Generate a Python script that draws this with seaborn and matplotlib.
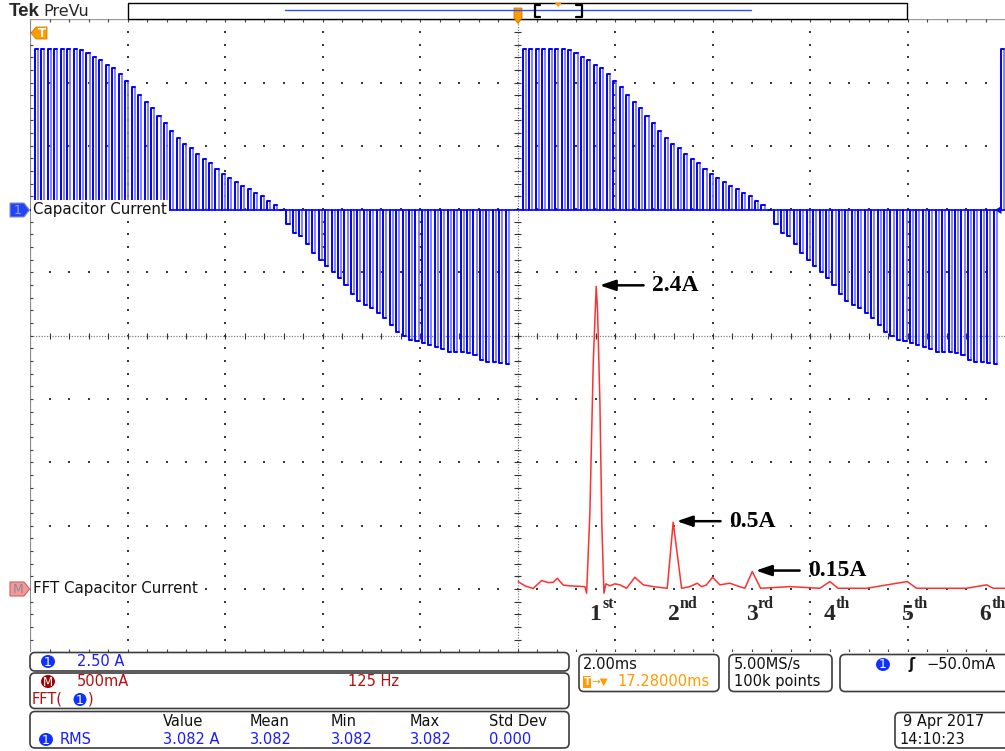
import numpy as np
import pandas as pd
import matplotlib
matplotlib.use("Agg")
import matplotlib.pyplot as plt
import seaborn as sns
from matplotlib.patches import FancyBboxPatch, Polygon, Ellipse, Rectangle
from matplotlib.transforms import offset_copy

# Channel 1: capacitor current, switching-pulse peak values (A) over one line cycle
ch1_pulse_amps = [6.35, 6.35, 6.35, 6.36, 6.36, 6.35, 6.33, 6.30, 6.20, 6.05,
                  5.93, 5.70, 5.58, 5.35, 5.10, 4.85, 4.52, 4.25, 4.00, 3.70,
                  3.42, 3.10, 2.85, 2.60, 2.42, 2.20, 2.00, 1.84, 1.60, 1.42,
                  1.26, 1.08, 0.93, 0.80, 0.67, 0.54, 0.35, 0.18, -0.02, -0.55,
                  -0.90, -1.05, -1.35, -1.70, -1.98, -2.24, -2.47, -2.70, -2.97, -3.32,
                  -3.60, -3.76, -3.90, -4.08, -4.27, -4.55, -4.83, -5.00, -5.14, -5.20,
                  -5.26, -5.33, -5.41, -5.50, -5.60, -5.62, -5.63, -5.65, -5.75, -5.93,
                  -6.01, -6.03, -6.05, -6.08]
ch1_cycle_start_ms = [0.10, 10.11, 19.92]
ch1_switch_period_ms = 0.1323
ch1_scale_a_per_div = 2.5
time_ms_per_div = 2.0

# Math channel: FFT of capacitor current
fft_freq_hz = [0.9, 9.5, 20.0, 30.9, 39.4, 45.8, 51.0, 58.6, 67.2, 86.4,
               88.6, 92.8, 97.1, 99.7, 100.9, 102.6, 105.6, 108.2, 110.8, 113.3,
               118.5, 124.9, 131.3, 139.9, 150.5, 161.2, 174.0, 192.0, 199.6, 210.4,
               221.0, 230.4, 236.0, 242.0, 250.0, 259.5, 272.3, 281.7, 291.5, 301.0,
               311.7, 349.0, 387.7, 400.5, 411.0, 447.5, 499.6, 511.7, 575.7, 601.4,
               610.0, 625.0]
fft_amp_a = [0.058, 0.024, 0.003, 0.066, 0.050, 0.052, 0.084, 0.030, 0.024, 0.018,
             -0.034, 0.60, 1.78, 2.20, 2.39, 2.20, 1.49, 0.49, -0.034, 0.040,
             0.024, 0.040, 0.032, 0.005, 0.092, 0.032, 0.018, 0.005, 0.527, 0.005,
             0.018, 0.045, 0.018, 0.030, 0.092, 0.032, 0.045, 0.024, 0.005, 0.137,
             0.005, 0.018, 0.005, 0.058, 0.005, 0.005, 0.058, 0.005, 0.005, 0.032,
             0.005, 0.005]
fft_scale_a_per_div = 0.5
fft_hz_per_div = 125.0

peak_labels = ["2.4A", "0.5A", "0.15A"]
peak_freq_hz = [100.9, 199.6, 301.0]
peak_amp_a = [2.39, 0.527, 0.137]

harmonic_numbers = ["1", "2", "3", "4", "5", "6"]
harmonic_suffix = ["st", "nd", "rd", "th", "th", "th"]
harmonic_freq_hz = [100, 200, 300, 400, 500, 600]

meas_headers = ["Value", "Mean", "Min", "Max", "Std Dev"]
meas_values = ["3.082 A", "3.082", "3.082", "3.082", "0.000"]

# ---------------- style ----------------
sns.set_style("white")
plt.rcParams["font.family"] = ["DejaVu Sans"]

W, H = 1005, 751
fig = plt.figure(figsize=(W / 100, H / 100), dpi=100)
left_px, right_px, top_px, bot_px = 30, 1005, 19.2, 652.2
ax = fig.add_axes([left_px / W, 1 - bot_px / H, (right_px - left_px) / W, (bot_px - top_px) / H])
ax.set_xlim(0, 10)
ax.set_ylim(-5, 5)
ax.axis("off")

CH1_OFF = 1.99   # ch1 ground, divisions above centre
FFT_OFF = -4.0   # math ground
PULSE_W = 0.064  # ms (top dwell of each switching pulse)
BLUE, LBLUE = "#0000ff", "#7878ff"
RED = "#ff3030"

# graticule dots
minor = np.round(np.arange(0.2, 10.0, 0.2), 3)
minor_y = np.round(np.arange(-4.8, 5.0, 0.2), 3)
gx, gy = [], []
for xv in [1, 2, 3, 4, 6, 7, 8, 9]:
    gx += [xv] * len(minor_y); gy += list(minor_y)
for yv in [-4, -3, -2, -1, 1, 2, 3, 4]:
    gx += list(minor); gy += [yv] * len(minor)
ax.scatter(gx, gy, s=1.3, marker="s", color="#3a3a3a", linewidths=0, zorder=1)
# centre crosshair
ax.hlines(0, 0, 10, colors="#808080", linestyles=(0, (1, 1.2)), lw=0.9, zorder=1)
ax.vlines(5, -5, 5, colors="#808080", linestyles=(0, (1, 1.2)), lw=0.9, zorder=1)
ax.vlines(minor, -0.05, 0.05, colors="#333333", lw=0.8, zorder=1)
ax.hlines(minor_y, 4.965, 5.035, colors="#333333", lw=0.8, zorder=1)
# edges
ax.vlines(0, -5, 5, colors="#8a8a8a", lw=1.6, zorder=2)
ax.hlines(5, 0, 10, colors="#9a9a9a", lw=1.0, zorder=2)
ax.vlines(minor, 5 - 0.05, 5, colors="#444444", lw=0.8)
ax.vlines(minor, -5, -5 + 0.05, colors="#444444", lw=0.8)
ax.hlines(minor_y, 0, 0.035, colors="#444444", lw=0.8)

# ---------------- channel 1 trace ----------------
rows = []
uid = 0
for c0 in ch1_cycle_start_ms:
    for k, a in enumerate(ch1_pulse_amps):
        t = c0 + k * ch1_switch_period_ms
        yv = a / ch1_scale_a_per_div + CH1_OFF
        # leading edge + top (bright), trailing edge (dim)
        for tt, yy in [(t, CH1_OFF), (t, yv), (t + PULSE_W, yv)]:
            rows.append((tt / time_ms_per_div, yy, uid, "bright"))
        uid += 1
        for tt, yy in [(t + PULSE_W, yv), (t + PULSE_W, CH1_OFF)]:
            rows.append((tt / time_ms_per_div, yy, uid, "dim"))
        uid += 1
df = pd.DataFrame(rows, columns=["x", "y", "seg", "shade"])
sns.lineplot(data=df[df.shade == "dim"], x="x", y="y", units="seg", estimator=None,
             color=LBLUE, sort=False, lw=1.3, legend=False, ax=ax, zorder=3)
sns.lineplot(x=[0, 10], y=[CH1_OFF, CH1_OFF], color=BLUE, lw=1.2, ax=ax, zorder=3)
sns.lineplot(data=df[df.shade == "bright"], x="x", y="y", units="seg", estimator=None,
             color=BLUE, sort=False, lw=1.4, legend=False, ax=ax, zorder=3)

# ---------------- FFT trace ----------------
fx = 5 + np.array(fft_freq_hz) / fft_hz_per_div
fy = np.array(fft_amp_a) / fft_scale_a_per_div + FFT_OFF
sns.lineplot(x=fx, y=fy, sort=False, color=RED, lw=1.1, ax=ax, zorder=4)

# annotations
tip = offset_copy(ax.transData, fig=fig, x=3.5, y=1, units="dots")
for lab, f, a in zip(peak_labels, peak_freq_hz, peak_amp_a):
    ax.annotate(lab, xy=(5 + f / fft_hz_per_div, a / fft_scale_a_per_div + FFT_OFF),
                xycoords=tip, xytext=(52, 0), textcoords="offset pixels",
                ha="left", va="center", fontsize=17, fontweight="bold",
                family="Liberation Serif", color="black",
                arrowprops=dict(arrowstyle="-|>,head_length=0.47,head_width=0.16",
                                mutation_scale=20, lw=1.8, color="black",
                                shrinkA=3.5, shrinkB=0))
for n, sfx, f in zip(harmonic_numbers, harmonic_suffix, harmonic_freq_hz):
    xv = 5 + f / fft_hz_per_div
    ax.annotate(n, xy=(xv, FFT_OFF), xytext=(0, -31), textcoords="offset pixels",
                ha="center", va="baseline", fontsize=17, fontweight="bold",
                family="Liberation Serif", annotation_clip=False)
    ax.annotate(sfx, xy=(xv, FFT_OFF), xytext=(6.5, -19), textcoords="offset pixels",
                ha="left", va="baseline", fontsize=11.5, fontweight="bold",
                family="Liberation Serif", annotation_clip=False)

# ---------------- overlay (pixel coordinates) ----------------
ov = fig.add_axes([0, 0, 1, 1], zorder=10)
ov.set_xlim(0, W)
ov.set_ylim(H, 0)
ov.axis("off")

UI = "DejaVu Sans"
FS = 10.5
TXTBLUE = "#1a1aff"
DRED = "#b01010"
ORANGE = "#ff9a00"

ov.text(9, 11.5, "Tek", family="Liberation Sans", fontweight="bold", fontsize=13.5, va="center")
ov.text(43, 11, "PreVu", family=UI, fontsize=11.5, va="center")
ov.add_patch(Rectangle((128, 3), 779, 15.5, facecolor="white", edgecolor="black", lw=1.0))
ov.plot([285, 751], [10, 10], color="#3050ff", lw=1.0)
ov.plot([540, 534.5, 534.5, 540], [4.5, 4.5, 17, 17], color="black", lw=1.6, solid_joinstyle="round")
ov.plot([576, 581.5, 581.5, 576], [4.5, 4.5, 17, 17], color="black", lw=1.6, solid_joinstyle="round")
ov.add_patch(Polygon([(554.5, 2.5), (562, 2.5), (558.2, 7)], closed=True, facecolor=ORANGE, edgecolor="none"))
ov.add_patch(Polygon([(514, 8), (522, 8), (522, 18), (518, 23.5), (514, 18)], closed=True,
                     facecolor=ORANGE, edgecolor="#cc7a00", lw=0.6))

# left markers
ov.add_patch(Polygon([(31, 33), (36, 27), (47, 27), (47, 39), (36, 39)], closed=True,
                     facecolor=ORANGE, edgecolor="#d08000", lw=0.6))
ov.text(41.5, 33.5, "T", color="white", fontsize=8.5, fontweight="bold", ha="center", va="center")
ov.add_patch(Polygon([(10, 203), (24, 203), (29.5, 210), (24, 217), (10, 217)], closed=True,
                     facecolor="#2244ff", edgecolor="#9090b0", lw=0.8))
ov.text(18, 210.5, "1", color="#9aa0d0", fontsize=9, ha="center", va="center")
ov.add_patch(Polygon([(10, 582), (24, 582), (29.5, 589), (24, 596), (10, 596)], closed=True,
                     facecolor="#f29a9a", edgecolor="#d06060", lw=0.8))
ov.text(18.5, 589.5, "M", color="#8a8a8a", fontsize=9, ha="center", va="center")
ov.text(33, 209.5, "Capacitor Current", family=UI, fontsize=10.8, color="#111111", va="center",
        bbox=dict(facecolor="white", edgecolor="none", pad=1.2))
ov.text(33, 588.5, "FFT Capacitor Current", family=UI, fontsize=10.8, color="#111111", va="center",
        bbox=dict(facecolor="white", edgecolor="none", pad=1.2))
ov.add_patch(Polygon([(995, 210), (1001.5, 206), (1001.5, 214)], closed=True, facecolor=BLUE, edgecolor="none"))

# bottom readout boxes
def box(x, y, w, h):
    ov.add_patch(FancyBboxPatch((x, y), w, h, boxstyle="round,pad=0,rounding_size=5",
                                facecolor="white", edgecolor="#3c3c3c", lw=1.2))

def badge(x, y, txt, col, w=14, h=13, fs=9):
    ov.add_patch(Ellipse((x, y), w, h, facecolor=col, edgecolor="none"))
    ov.text(x, y + 0.5, txt, color="white", fontsize=fs, ha="center", va="center", family=UI)

box(30, 652.5, 539, 18.5)
box(30, 673, 539, 35.5)
box(30, 711.5, 539, 36.5)
box(579, 654.5, 140, 37)
box(729, 654.5, 103, 37)
box(840, 654.5, 185, 37)
box(895, 712.5, 130, 35.5)

badge(48, 661.5, "1", "#1030ff")
ov.text(77, 661.5, "2.50 A", color=TXTBLUE, fontsize=FS, family=UI, va="center")
badge(48, 681.5, "M", "#a00000", fs=8.5)
ov.text(77, 681.5, "500mA", color=DRED, fontsize=FS, family=UI, va="center")
ov.text(348, 681.5, "125 Hz", color=DRED, fontsize=FS, family=UI, va="center")
ov.text(32, 699.5, "FFT(", color=DRED, fontsize=FS, family=UI, va="center")
badge(80, 699.5, "1", "#1030ff", w=13, h=13)
ov.text(88, 699.5, ")", color=DRED, fontsize=FS, family=UI, va="center")

hx = [163, 250, 331, 410, 489]
for x, h in zip(hx, meas_headers):
    ov.text(x, 721.5, h, color="#111111", fontsize=FS, family=UI, va="center")
badge(46, 739.5, "1", "#1030ff")
ov.text(60, 739.5, "RMS", color=TXTBLUE, fontsize=FS, family=UI, va="center")
for x, v in zip(hx, meas_values):
    ov.text(x, 739.5, v, color=TXTBLUE, fontsize=FS, family=UI, va="center")

ov.text(583, 664.5, "2.00ms", color="#111111", fontsize=FS, family=UI, va="center")
ov.add_patch(Rectangle((583, 675.5), 8, 12, facecolor=ORANGE, edgecolor="none"))
ov.text(587, 682, "T", color="white", fontsize=7.5, fontweight="bold", ha="center", va="center")
ov.text(591.5, 681.5, "→▼", color=ORANGE, fontsize=7.5, family=UI, va="center")
ov.text(617, 681.5, "17.28000ms", color=ORANGE, fontsize=FS, family=UI, va="center")
ov.text(734, 664.5, "5.00MS/s", color="#111111", fontsize=FS, family=UI, va="center")
ov.text(734, 681.5, "100k points", color="#111111", fontsize=FS, family=UI, va="center")
badge(883, 664.5, "1", "#1030ff")
ov.text(908, 664.5, "ʃ", color="#111111", fontsize=FS, fontweight="bold", family=UI, va="center")
ov.text(926, 664.5, "−50.0mA", color="#111111", fontsize=FS, family=UI, va="center")
ov.text(903, 721.5, "9 Apr 2017", color="#111111", fontsize=FS, family=UI, va="center")
ov.text(899, 739.5, "14:10:23", color="#111111", fontsize=FS, family=UI, va="center")

fig.savefig("out.png", dpi=100)
